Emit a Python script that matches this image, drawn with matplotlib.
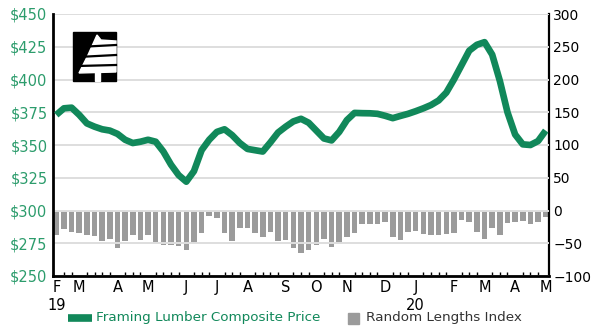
import matplotlib
matplotlib.use("Agg")
import matplotlib.pyplot as plt
from matplotlib.lines import Line2D
from matplotlib.patches import Rectangle, Polygon

# weekly composite price ($/mbf), Feb 2019 - May 2020
price = [373, 378, 378.5, 373, 366.5, 364, 362, 361, 358.5, 354,
         351.5, 352.5, 354, 352.5, 345, 335, 327, 322, 330, 346,
         354, 360, 362, 357.5, 351.5, 347, 346, 345, 352, 359.5,
         364, 368, 370, 367, 361, 355, 353.5, 360, 369, 374.5,
         374.3, 374.2, 373.8, 372.3, 370.5, 372.2, 373.8, 375.8, 378, 380.5,
         384, 390, 400, 411, 422, 426.5, 428.5, 419, 399, 375,
         358, 350.5, 350, 353, 361]

# Random Lengths index, same weeks
rl_index = [-37, -29, -33, -34, -37, -39, -47, -43, -57, -46,
            -37, -45, -38, -48, -53, -53, -54, -60, -50, -34,
            -9, -12, -35, -47, -26, -26, -35, -41, -33, -46,
            -45, -57, -65, -60, -52, -43, -56, -51, -40, -34,
            -21, -21, -21, -18, -40, -45, -33, -32, -36, -37,
            -38, -36, -35, -15, -17, -33, -43, -26, -37, -19,
            -17, -16, -21, -18, -10]

month_pos = [0, 3, 8, 12, 17, 21, 25, 30, 34, 38, 43, 47, 52, 56, 60, 64]
month_labels = ["F\n19", "M", "A", "M", "J", "J", "A", "S", "O", "N", "D",
                "J\n20", "F", "M", "A", "M"]

price_ticks = [250, 275, 300, 325, 350, 375, 400, 425, 450]
index_ticks = [-100, -50, 0, 50, 100, 150, 200, 250, 300]

green = "#11885a"
label_green = "#2c9c6c"
bar_grey = "#9b9b9b"

weeks = list(range(len(price)))

fig = plt.figure(figsize=(6, 3.32), dpi=100)
ax = fig.add_axes([53 / 600, 1 - 276 / 332, 496 / 600, 262 / 332])
ax2 = ax.twinx()

ax2.bar(weeks, rl_index, width=0.72, color=bar_grey, zorder=2)
ax2.set_ylim(-100, 300)
ax2.set_yticks(index_ticks)
ax2.tick_params(axis="y", length=0, pad=3, labelsize=10, colors="black")

ax.plot(weeks, price, color=green, lw=4.8, solid_joinstyle="round",
        solid_capstyle="butt", zorder=3)
ax.set_ylim(250, 450)
ax.set_xlim(-0.43, 64.43)
ax.set_yticks(price_ticks)
ax.set_yticklabels(["$%d" % p for p in price_ticks])
ax.tick_params(axis="y", length=0, pad=4, labelsize=10.5, labelcolor=label_green)
ax.yaxis.grid(True, color="#dedede", lw=1.4)
ax.set_axisbelow(True)

ax.set_xticks(month_pos)
ax.set_xticklabels(month_labels, fontsize=10.5, linespacing=1.2)
ax.set_xticks(weeks, minor=True)
ax.tick_params(axis="x", which="major", length=0, pad=3)
ax.tick_params(axis="x", which="minor", direction="in", length=3, width=1)

ax.set_zorder(ax2.get_zorder() + 1)
ax.patch.set_visible(False)

for a in (ax, ax2):
    a.spines["top"].set_visible(False)
ax.spines["left"].set_linewidth(2)
ax.spines["bottom"].set_linewidth(2)
ax.spines["right"].set_visible(False)
ax2.spines["left"].set_visible(False)
ax2.spines["bottom"].set_visible(False)
ax2.spines["right"].set_linewidth(1.6)

# tree logo, upper left
W, H = 600, 332
def fxy(x, y):
    return (x / W, 1 - y / H)

fig.add_artist(Rectangle(fxy(73, 81.5), 43 / W, 49 / H, transform=fig.transFigure,
                         color="black", zorder=5))
tree = [fxy(97, 35), fxy(101, 40), fxy(116, 41), fxy(116, 72),
        fxy(79, 73), fxy(88, 55)]
fig.add_artist(Polygon(tree, closed=True, transform=fig.transFigure,
                       color="white", zorder=6))
for y0, y1 in [(47, 45), (57, 55), (66, 65)]:
    fig.add_artist(Line2D([78 / W, 116 / W], [1 - y0 / H, 1 - y1 / H],
                          transform=fig.transFigure, color="black", lw=1.6, zorder=7))
fig.add_artist(Rectangle(fxy(95, 81.5), 4.5 / W, 9 / H, transform=fig.transFigure,
                         color="white", zorder=6))

# legend row
ly = 1 - 318 / H
fig.add_artist(Line2D([68 / W, 92 / W], [ly, ly], transform=fig.transFigure,
                      color=green, lw=5.5, solid_capstyle="butt"))
fig.text(96 / W, ly, "Framing Lumber Composite Price", color=green,
         fontsize=9.7, va="center", ha="left")
fig.add_artist(Rectangle((348 / W, ly - 5.5 / H), 11 / W, 11 / H,
                         transform=fig.transFigure, color=bar_grey))
fig.text(366 / W, ly, "Random Lengths Index", color="#333333",
         fontsize=9.7, va="center", ha="left")

fig.savefig("out.png", dpi=100)
